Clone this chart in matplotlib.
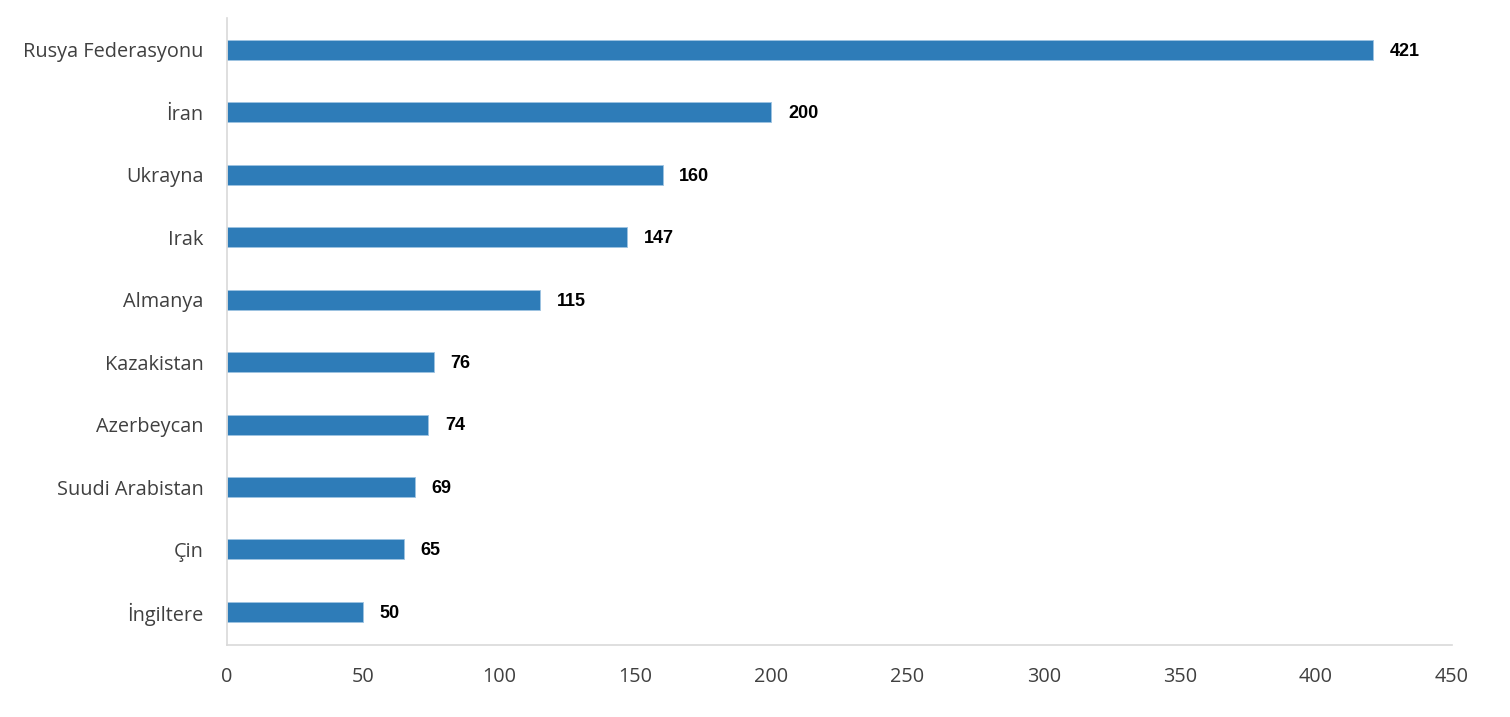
import matplotlib
matplotlib.use("Agg")
import matplotlib.pyplot as plt

countries = ["Rusya Federasyonu", "İran", "Ukrayna", "Irak", "Almanya",
             "Kazakistan", "Azerbeycan", "Suudi Arabistan", "Çin", "İngiltere"]
values = [421, 200, 160, 147, 115, 76, 74, 69, 65, 50]
xticks = [0, 50, 100, 150, 200, 250, 300, 350, 400, 450]

fig = plt.figure(figsize=(15.10, 7.17), dpi=100)
ax = fig.add_axes([0.1503, 0.1004, 0.8113, 0.8745])

ypos = list(range(len(countries) - 1, -1, -1))
ax.barh(ypos, values, height=0.32, color="#2E7CB8", edgecolor="#9EC3E2", linewidth=0.6)

for y, v in zip(ypos, values):
    ax.annotate(str(v), xy=(v, y), xytext=(12, -1), textcoords="offset points",
                va="center", ha="left", fontsize=13, fontweight="bold",
                family="Liberation Sans", color="black")

ax.set_xlim(0, 450)
ax.set_ylim(-0.53, 9.51)
ax.set_xticks(xticks)
ax.set_yticks(ypos)
ax.set_yticklabels(countries)
ax.tick_params(axis="both", length=0, labelsize=14.3, labelcolor="#404040")
ax.tick_params(axis="y", pad=17)
ax.tick_params(axis="x", pad=16)
for lab in ax.get_xticklabels() + ax.get_yticklabels():
    lab.set_family("Open Sans")

for side in ["top", "right"]:
    ax.spines[side].set_visible(False)
ax.spines["left"].set_color("#D9D9D9")
ax.spines["bottom"].set_color("#D9D9D9")
ax.spines["left"].set_linewidth(1.2)
ax.spines["bottom"].set_linewidth(1.2)

fig.savefig("out.png", dpi=100)
